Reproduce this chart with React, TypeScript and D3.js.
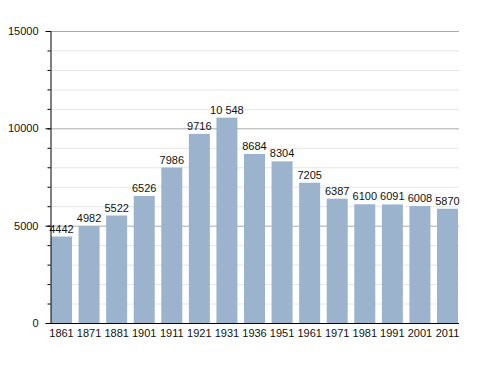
import { useEffect, useRef } from 'react'
import * as d3 from 'd3'

const years = ['1861', '1871', '1881', '1901', '1911', '1921', '1931', '1936', '1951', '1961', '1971', '1981', '1991', '2001', '2011']
const population = [4442, 4982, 5522, 6526, 7986, 9716, 10548, 8684, 8304, 7205, 6387, 6100, 6091, 6008, 5870]
const majorTicks = [0, 5000, 10000, 15000]

const fmt = (v: number) => (v >= 10000 ? d3.format(',')(v).replace(',', ' ') : String(v))

export default function App() {
  const svgRef = useRef<SVGSVGElement>(null)

  useEffect(() => {
    if (!svgRef.current) return
    const svg = d3.select(svgRef.current)
    svg.selectAll('*').remove()

    const left = 50, right = 459, top = 31, bottom = 323
    const x = d3.scaleBand<string>().domain(years).range([left, right]).paddingInner(0.238).paddingOuter(0.036)
    const y = d3.scaleLinear().domain([0, 15000]).range([bottom, top])
    const font = 'Liberation Sans, Arial, sans-serif'

    // Minor grid
    const minor = d3.range(0, 15001, 1000).filter(v => v % 5000 !== 0)
    svg.append('g').selectAll('line').data(minor).join('line')
      .attr('x1', left).attr('x2', right)
      .attr('y1', d => y(d) + 0.5).attr('y2', d => y(d) + 0.5)
      .attr('stroke', '#e6e6e6')
    svg.append('g').selectAll('line').data(majorTicks.slice(1)).join('line')
      .attr('x1', left).attr('x2', right)
      .attr('y1', d => y(d) + 0.5).attr('y2', d => y(d) + 0.5)
      .attr('stroke', '#aaaaaa')

    // Bars
    svg.append('g').selectAll('rect').data(population).join('rect')
      .attr('x', (_, i) => x(years[i])!)
      .attr('width', x.bandwidth())
      .attr('y', d => y(d))
      .attr('height', d => bottom - y(d))
      .attr('fill', '#9cb3cd')

    // Value labels
    svg.append('g').selectAll('text').data(population).join('text')
      .attr('x', (_, i) => x(years[i])! + x.bandwidth() / 2)
      .attr('y', d => y(d) - 4)
      .attr('text-anchor', 'middle')
      .attr('font-family', font).attr('font-size', 11).attr('fill', '#111')
      .text(d => fmt(d))

    // Y axis
    svg.append('g').attr('transform', `translate(${left + 0.5},0)`)
      .call(d3.axisLeft(y).tickValues(d3.range(0, 15001, 1000)).tickSize(3).tickFormat(() => ''))
      .call(g => g.select('.domain').attr('stroke', '#000'))
      .call(g => g.selectAll('.tick line').attr('stroke', '#000'))
    svg.append('g').attr('transform', `translate(${left + 0.5},0)`)
      .call(d3.axisLeft(y).tickValues(majorTicks).tickSize(5).tickPadding(7).tickFormat(d => String(d)))
      .call(g => g.select('.domain').remove())
      .call(g => g.selectAll('.tick line').attr('stroke', '#000'))
      .call(g => g.selectAll('.tick text').attr('fill', '#111').attr('font-size', 11).attr('font-family', font))

    // X axis
    svg.append('g').attr('transform', `translate(0,${bottom + 0.5})`)
      .call(d3.axisBottom(x).tickSize(0).tickPadding(6))
      .call(g => g.select('.domain').attr('stroke', '#000').attr('d', `M${left},0H${right}`))
      .call(g => g.selectAll('.tick text').attr('fill', '#111').attr('font-size', 11).attr('font-family', font))
  }, [])

  return <svg ref={svgRef} width={488} height={373} style={{ display: 'block', position: 'absolute', left: 0, top: 0 }} />
}
